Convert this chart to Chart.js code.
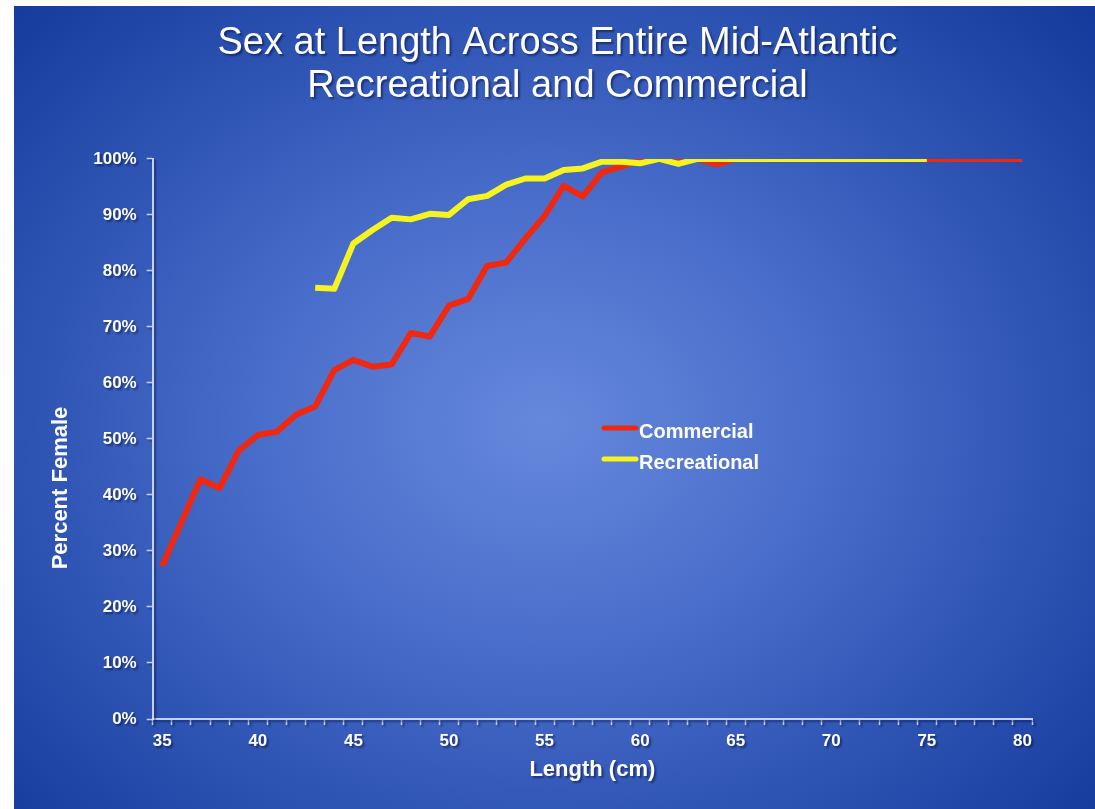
<!DOCTYPE html>
<html>
<head>
<meta charset="utf-8">
<script src="https://cdn.jsdelivr.net/npm/chart.js@4.4.0/dist/chart.umd.min.js"></script>
<style>
  html, body { margin: 0; padding: 0; background: #fff; }
  #wrap {
    position: absolute; left: 14px; top: 6px; width: 1081px; height: 803px;
    background: radial-gradient(ellipse 72% 78% at 49% 52%, #6688dc 0%, #4a6ecb 35%, #2a50b0 70%, #11379a 100%);
  }
  canvas { display: block; }
</style>
</head>
<body>
<div id="wrap"><canvas id="chart" width="1081" height="803"></canvas></div>
<script>
const FONT = '"Liberation Sans", Arial, sans-serif';

// length classes (cm)
const lengths = [35, 36, 37, 38, 39, 40, 41, 42, 43, 44, 45, 46, 47, 48, 49, 50, 51, 52, 53, 54,
  55, 56, 57, 58, 59, 60, 61, 62, 63, 64, 65, 66, 67, 68, 69, 70, 71, 72, 73, 74, 75, 76, 77, 78, 79, 80];

// percent female
const commercial = [27.3, 35.1, 42.8, 41.2, 47.9, 50.7, 51.3, 54.3, 55.8, 62.3, 64.1, 62.9, 63.3, 68.9, 68.3,
  73.8, 75.0, 80.9, 81.5, 85.8, 89.8, 95.2, 93.3, 97.6, 98.6, 99.7, 100, 100, 100, 99.0,
  100, 100, 100, 100, 100, 100, 100, 100, 100, 100, 100, 100, 100, 100, 100, 100];
const recreational = [null, null, null, null, null, null, null, null, 77.0, 76.8, 84.9, 87.3, 89.5, 89.2, 90.2,
  90.0, 92.8, 93.4, 95.4, 96.5, 96.5, 98.0, 98.3, 99.5, 99.5, 99.2, 100, 99.1, 100, 100,
  100, 100, 100, 100, 100, 100, 100, 100, 100, 100, 100, null, null, null, null, null];

const xTickLabels = [35, 40, 45, 50, 55, 60, 65, 70, 75, 80];
const yTickLabels = [0, 10, 20, 30, 40, 50, 60, 70, 80, 90, 100];

const titleLines = ['Sex at Length Across Entire Mid-Atlantic', 'Recreational and Commercial'];
const yTitle = 'Percent Female';
const xTitle = 'Length (cm)';

const AXIS = 'rgba(214, 224, 250, 0.9)';

const toPoints = arr => lengths.map((x, i) => ({ x, y: arr[i] })).filter(p => p.y !== null);

// soft drop shadow under the slide title
const titleShadow = {
  id: 'titleShadow',
  beforeDraw(chart) {
    chart.ctx.save();
    chart.ctx.shadowColor = 'rgba(0, 0, 40, 0.45)';
    chart.ctx.shadowOffsetX = 2;
    chart.ctx.shadowOffsetY = 2;
    chart.ctx.shadowBlur = 2;
  },
  beforeDatasetsDraw(chart) {
    chart.ctx.restore();
  }
};

// legend sits inside the plot, Excel style
const insideLegend = {
  id: 'insideLegend',
  afterDraw(chart) {
    const ctx = chart.ctx;
    ctx.save();
    chart.data.datasets.forEach((ds, i) => {
      const y = 422 + i * 31;
      ctx.strokeStyle = ds.borderColor;
      ctx.lineWidth = 5;
      ctx.lineCap = 'round';
      ctx.beginPath();
      ctx.moveTo(590, y);
      ctx.lineTo(622, y);
      ctx.stroke();
      ctx.fillStyle = '#fff';
      ctx.font = 'bold 20px ' + FONT;
      ctx.textBaseline = 'middle';
      ctx.textAlign = 'left';
      ctx.fillText(ds.label, 625, y + 4);
    });
    ctx.restore();
  }
};

// y title sits lower than the axis centre in the original
const yTitlePlugin = {
  id: 'yTitlePlugin',
  afterDraw(chart) {
    const ctx = chart.ctx;
    ctx.save();
    ctx.translate(47, 482);
    ctx.rotate(-Math.PI / 2);
    ctx.fillStyle = '#fff';
    ctx.font = 'bold 22px ' + FONT;
    ctx.textAlign = 'center';
    ctx.textBaseline = 'middle';
    ctx.fillText(yTitle, 0, 0);
    ctx.restore();
  }
};

new Chart(document.getElementById('chart'), {
  type: 'line',
  data: {
    datasets: [
      {
        label: 'Commercial',
        data: toPoints(commercial),
        borderColor: '#f0280f',
        borderWidth: 6,
        pointRadius: 0,
        tension: 0,
        borderJoinStyle: 'round',
        clip: 0,
        order: 1,
      },
      {
        label: 'Recreational',
        data: toPoints(recreational),
        borderColor: '#f6f420',
        borderWidth: 6,
        pointRadius: 0,
        tension: 0,
        borderJoinStyle: 'round',
        clip: 0,
        order: 0,
      }
    ]
  },
  options: {
    responsive: false,
    animation: false,
    layout: { padding: { left: 6, right: 0, top: 0, bottom: 0 } },
    plugins: {
      legend: { display: false },
      tooltip: { enabled: false },
      title: {
        display: true,
        text: titleLines,
        color: '#fff',
        font: { family: FONT, size: 38, weight: 'normal', lineHeight: 1.13 },
        padding: { top: 16, bottom: 51 }
      }
    },
    scales: {
      x: {
        type: 'linear',
        min: 34.5,
        max: 80.5,
        afterFit: s => { s.height = 90; },
        afterBuildTicks: s => {
          const t = [];
          for (let v = s.min; v <= s.max + 1e-6; v += 1) t.push({ value: v });
          xTickLabels.forEach(v => t.push({ value: v }));
          t.sort((a, b) => a.value - b.value);
          s.ticks = t;
        },
        border: { display: true, color: AXIS, width: 2 },
        grid: {
          drawOnChartArea: false,
          drawTicks: true,
          tickLength: 6,
          tickWidth: 1.5,
          tickColor: c => (c.tick && c.tick.value % 1 === 0) ? 'rgba(0,0,0,0)' : AXIS
        },
        ticks: {
          autoSkip: false,
          maxRotation: 0,
          padding: 6,
          color: '#fff',
          font: { family: FONT, size: 17, weight: 'bold' },
          callback: v => xTickLabels.includes(v) ? String(v) : ''
        },
        title: {
          display: true,
          text: xTitle,
          color: '#fff',
          font: { family: FONT, size: 22, weight: 'bold' },
          padding: { top: 0, bottom: 26 }
        }
      },
      y: {
        min: 0,
        max: 100,
        afterFit: s => { s.width = 132.7; },
        afterBuildTicks: s => { s.ticks = yTickLabels.map(v => ({ value: v })); },
        border: { display: true, color: AXIS, width: 2 },
        grid: {
          drawOnChartArea: false,
          drawTicks: true,
          tickLength: 6,
          tickWidth: 1.5,
          tickColor: AXIS
        },
        ticks: {
          padding: 10,
          color: '#fff',
          font: { family: FONT, size: 17, weight: 'bold' },
          callback: v => v + '%'
        },
        title: { display: false }
      },
      yRight: {
        type: 'linear',
        position: 'right',
        display: true,
        afterFit: s => { s.width = 63; },
        border: { display: false },
        grid: { display: false, drawTicks: false },
        ticks: { display: false }
      }
    }
  },
  plugins: [titleShadow, insideLegend, yTitlePlugin]
});
</script>
</body>
</html>
